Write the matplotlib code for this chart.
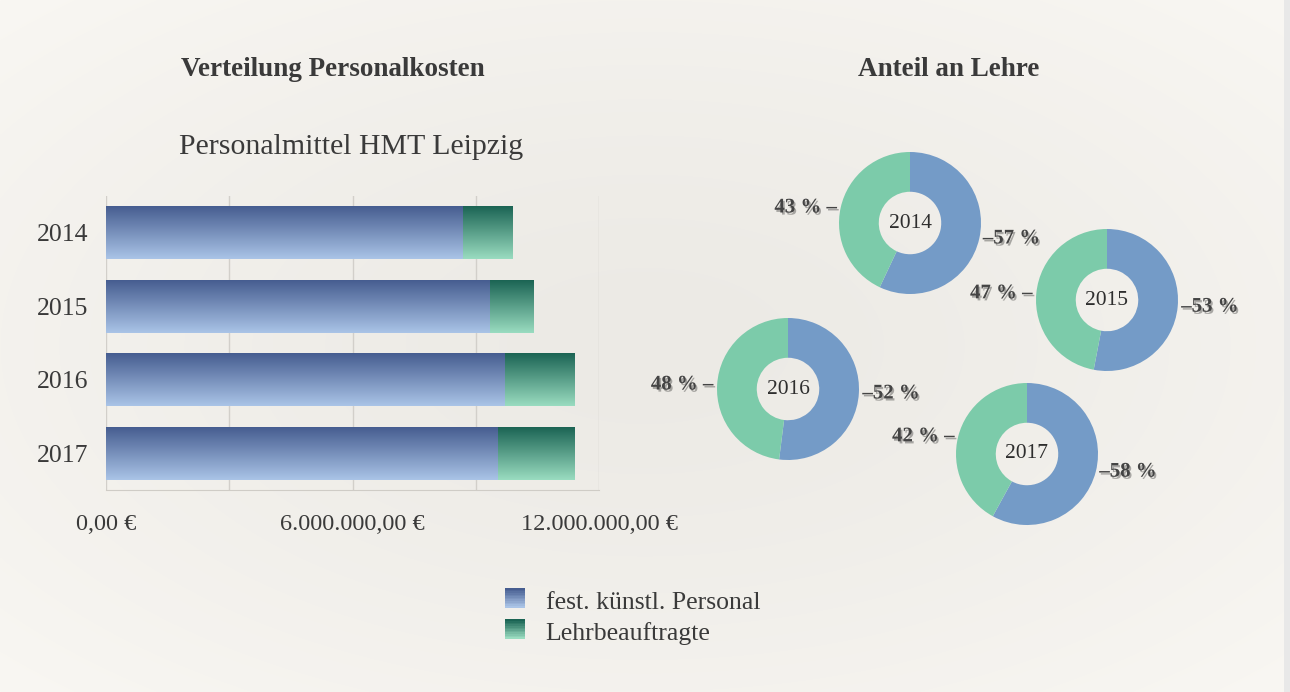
"""
Personalkosten HMT Leipzig: stacked bars + donuts for the teaching share.
"""
import numpy as np
import matplotlib.pyplot as plt
from matplotlib import patheffects as pe
from matplotlib.colors import LinearSegmentedColormap
from matplotlib.patches import Rectangle
from matplotlib.legend_handler import HandlerBase

# -------------------------------------------------
# data
# -------------------------------------------------
years = ["2014", "2015", "2016", "2017"]
festes_personal = [8.69e6, 9.34e6, 9.72e6, 9.54e6]
lehrbeauftragte = [1.20e6, 1.07e6, 1.68e6, 1.85e6]
x_ticks = [0, 3e6, 6e6, 9e6, 12e6]
x_labels = ["0,00 €", "", "6.000.000,00 €", "", "12.000.000,00 €"]

anteil_fest = [57, 53, 52, 58]
anteil_lehrb = [43, 47, 48, 42]

series_names = ["fest. künstl. Personal", "Lehrbeauftragte"]

W, H = 1290, 692
FONT = "Liberation Serif"
TXT = "#3a3a3a"
blue_cmap = LinearSegmentedColormap.from_list("b", ["#465d90", "#aac4e7"])
green_cmap = LinearSegmentedColormap.from_list("g", ["#1b6454", "#9adcc0"])
DONUT_BLUE = "#749bc7"
DONUT_GREEN = "#7ccbaa"


def px(x, y, w, h):
    # pixel box (top-left origin) -> figure fraction rect
    return [x / W, 1 - (y + h) / H, w / W, h / H]


fig = plt.figure(figsize=(W / 100, H / 100), dpi=100)

# -------------------------------------------------
# paper background
# -------------------------------------------------
bg = fig.add_axes([0, 0, 1, 1], zorder=-10)
yy, xx = np.mgrid[0:1:H * 1j, 0:1:W * 1j]
d = np.sqrt((xx - 0.5) ** 2 + (yy - 0.5) ** 2) / np.sqrt(0.5)
centre = np.array([236, 234, 229]) / 255
edge = np.array([249, 247, 243]) / 255
img = centre + (edge - centre) * (d[..., None] ** 1.4)
img[:, int(W * 0.9955):] = np.array([232, 232, 232]) / 255
bg.imshow(img, aspect="auto", extent=[0, 1, 0, 1])
bg.axis("off")

# -------------------------------------------------
# stacked bar chart
# -------------------------------------------------
ax = fig.add_axes(px(106, 196, 493, 294))
ax.patch.set_alpha(0)
ypos = np.arange(len(years))
b1 = ax.barh(ypos, festes_personal, height=0.72, color="#7891c0", zorder=2)
b2 = ax.barh(ypos, lehrbeauftragte, left=festes_personal, height=0.72,
             color="#5aa58c", zorder=2)

grad = np.linspace(0, 1, 256).reshape(-1, 1)
for bars, cmap in ((b1, blue_cmap), (b2, green_cmap)):
    for p in bars:
        x0, y0 = p.get_x(), p.get_y()
        im = ax.imshow(grad, cmap=cmap, origin="lower", aspect="auto",
                       extent=[x0, x0 + p.get_width(), y0, y0 + p.get_height()],
                       zorder=3)
        im.set_clip_path(p)

ax.set_xlim(0, 12e6)
ax.set_ylim(3.5, -0.5)
ax.set_yticks(ypos)
ax.set_yticklabels(years, fontsize=18.5, family=FONT, color=TXT)
ax.set_xticks(x_ticks)
ax.set_xticklabels(x_labels, fontsize=17.5, family=FONT, color=TXT)
ax.tick_params(length=0)
ax.tick_params(axis="y", pad=13)
ax.tick_params(axis="x", pad=17)
ax.grid(axis="x", color="#d2cfca", lw=1)
ax.set_axisbelow(True)
for s in ("top", "left", "right"):
    ax.spines[s].set_visible(False)
ax.spines["bottom"].set_color("#cfccc6")

fig.text(333 / W, 1 - 70 / H, "Verteilung Personalkosten", ha="center",
         va="center", fontsize=19.5, fontweight="bold", family=FONT, color=TXT)
fig.text(351 / W, 1 - 147 / H, "Personalmittel HMT Leipzig", ha="center",
         va="center", fontsize=21.5, family=FONT, color=TXT)


# legend with gradient squares
class GradHandler(HandlerBase):
    def __init__(self, cmap):
        super().__init__()
        self.cmap = cmap

    def create_artists(self, legend, orig, xd, yd, width, height, fontsize, trans):
        n = 12
        arts = []
        for i in range(n):
            arts.append(Rectangle((xd, yd + height * (n - 1 - i) / n), width,
                                  height / n + 0.3, facecolor=self.cmap(i / (n - 1)),
                                  edgecolor="none", transform=trans))
        return arts


h1 = Rectangle((0, 0), 1, 1)
h2 = Rectangle((0, 0), 1, 1)
leg = fig.legend([h1, h2], series_names, loc="upper left",
                 bbox_to_anchor=(505 / W, 1 - 590 / H), frameon=False,
                 prop={"family": FONT, "size": 18.5}, handlelength=0.78,
                 handleheight=0.78, handletextpad=0.8, labelspacing=0.3,
                 borderpad=0, borderaxespad=0,
                 handler_map={h1: GradHandler(blue_cmap), h2: GradHandler(green_cmap)})
for t in leg.get_texts():
    t.set_color(TXT)

# -------------------------------------------------
# donuts: Anteil an Lehre
# -------------------------------------------------
fig.text(949 / W, 1 - 70 / H, "Anteil an Lehre", ha="center", va="center",
         fontsize=19.5, fontweight="bold", family=FONT, color=TXT)

centres = [(910, 223), (1107, 300), (788, 389), (1027, 454)]
R = 71
shadow = [pe.SimplePatchShadow(offset=(1.2, -1.5), shadow_rgbFace="#000000", alpha=0.3),
          pe.Normal()]
for yr, a, b, (cx, cy) in zip(years, anteil_fest, anteil_lehrb, centres):
    dax = fig.add_axes(px(cx - R, cy - R, 2 * R, 2 * R))
    dax.pie([a, b], colors=[DONUT_BLUE, DONUT_GREEN], startangle=90,
            counterclock=False, radius=1,
            wedgeprops=dict(width=0.56, edgecolor="none"))
    dax.set_xlim(-1, 1)
    dax.set_ylim(-1, 1)
    dax.axis("off")
    dax.text(0, 0, yr, ha="center", va="center", fontsize=15.5, family=FONT,
             color="#2e2e2e")
    tb = np.deg2rad(90 - 3.6 * a / 2)
    tg = np.deg2rad(90 + 3.6 * b / 2)
    dax.text(np.cos(tb) + 0.05, np.sin(tb), f"–{a} %", ha="left", va="center",
             fontsize=15, fontweight="bold", family=FONT, color="#444444",
             path_effects=shadow)
    dax.text(np.cos(tg) - 0.05, np.sin(tg), f"{b} % –", ha="right", va="center",
             fontsize=15, fontweight="bold", family=FONT, color="#444444",
             path_effects=shadow)

fig.savefig("out.png", dpi=100)
